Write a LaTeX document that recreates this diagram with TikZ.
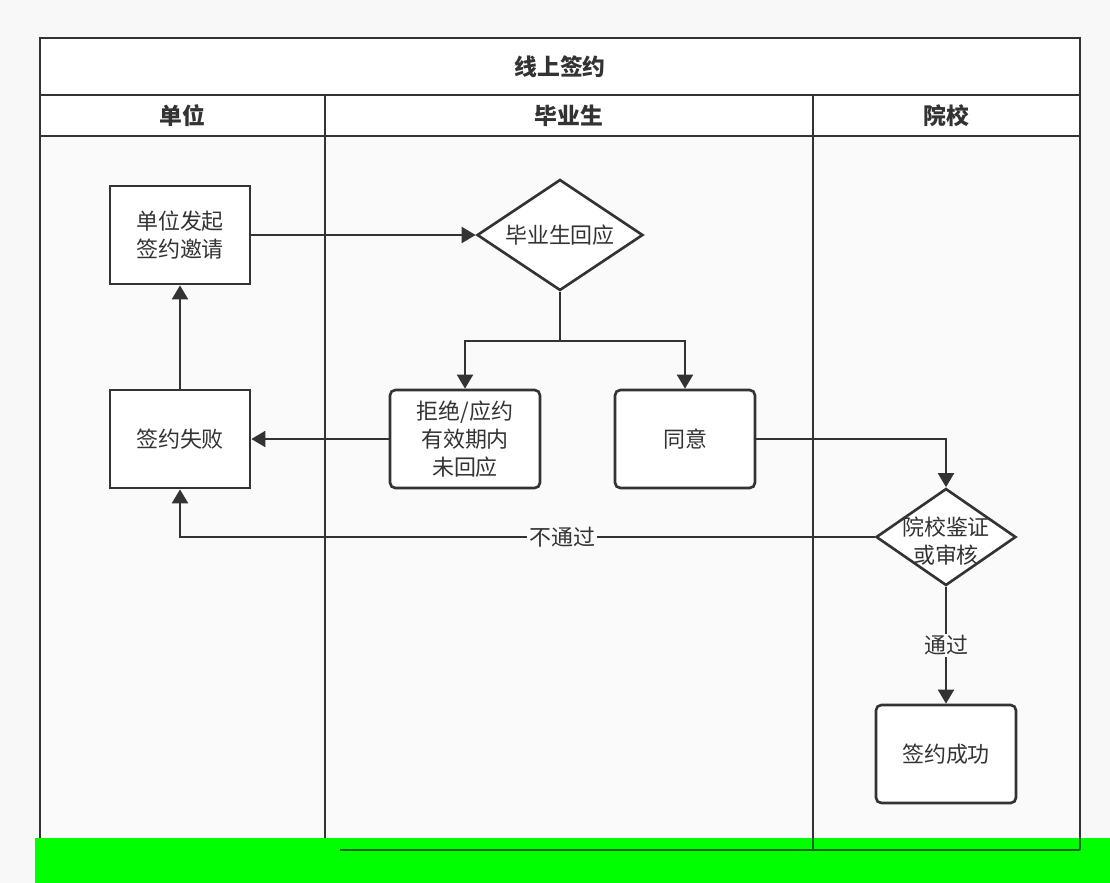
\documentclass[tikz,border=0pt]{standalone}
\usepackage{fontspec}
\setmainfont{Noto Sans CJK SC}
\usetikzlibrary{arrows.meta,shapes.geometric}
\definecolor{ln}{RGB}{51, 51, 51}
\definecolor{bg}{RGB}{248, 248, 248}
\definecolor{lane}{RGB}{250, 250, 250}
\definecolor{scr}{RGB}{0, 255, 0}

\tikzset{
  box/.style={draw=ln, line width=1.5pt, fill=white, minimum width=2.8cm, minimum height=1.96cm,
    align=center, text=ln, font=\fontsize{12.5}{16}\selectfont, inner sep=0pt},
  rbox/.style={box, rounded corners=3pt},
  decide/.style={draw=ln, line width=1.5pt, fill=white, diamond, inner sep=0pt},
  words/.style={align=center, text=ln, font=\fontsize{12.5}{16}\selectfont},
  flow/.style={draw=ln, line width=1.5pt, -{Triangle[length=8pt,width=9pt]}},
  head/.style={text=ln, font=\fontsize{13}{16}\selectfont\bfseries},
  tag/.style={fill=lane, text=ln, font=\fontsize{12.5}{16}\selectfont, inner sep=1pt}
}

\begin{document}
\begin{tikzpicture}[x=0.02cm, y=-0.02cm]
  \useasboundingbox (0,0) rectangle (1110,883);
  \fill[bg] (0,0) rectangle (1110,883);
  % pool
  \fill[lane] (40,136) rectangle (1080,850);
  \fill[white] (40,38) rectangle (1080,136);
  \draw[ln, line width=1.5pt] (40,38) rectangle (1080,850);
  \draw[ln, line width=1.5pt] (40,95) -- (1080,95);
  \draw[ln, line width=1.5pt] (40,136) -- (1080,136);
  \draw[ln, line width=1.5pt] (325,95) -- (325,850);
  \draw[ln, line width=1.5pt] (813,95) -- (813,850);
  \node[head] (title) at (560,67) {线上签约};
  \node[head] (unit) at (182,116) {单位};
  \node[head] (grad) at (569,116) {毕业生};
  \node[head] (school) at (946,116) {院校};

  % nodes
  \node[box] (invite) at (180,235) {单位发起\\签约邀请};
  \node[box] (fail) at (180,439) {签约失败};
  \node[decide, minimum width=3.32cm, minimum height=2.22cm] (reply) at (560,235) {};
  \node[words] (replytext) at (reply.center) {毕业生回应};
  \node[rbox, minimum width=3cm] (refuse) at (465,439) {拒绝/应约\\有效期内\\未回应};
  \node[rbox] (agree) at (685,439) {同意};
  \node[decide, minimum width=2.8cm, minimum height=1.94cm] (check) at (946,537) {};
  \node[words] (checktext) at (946,541) {院校鉴证\\或审核};
  \node[rbox] (ok) at (946,754) {签约成功};
  \coordinate (split) at (560,341);

  % connectors
  \draw[flow] (invite.east) -- (reply.west);
  \draw[draw=ln, line width=1.5pt] (reply.south) -- (split);
  \draw[flow] (split) -| (refuse.north);
  \draw[flow] (split) -| (agree.north);
  \draw[flow] (refuse.west) -- (fail.east);
  \draw[flow] (fail.north) -- (invite.south);
  \draw[flow] (agree.east) -| (check.north);
  \draw[flow] (check.west) -| node[tag, pos=0.225] {不通过} (fail.south);
  \draw[flow] (check.south) -- node[tag] {通过} (ok.north);

  % screen strip
  \fill[scr] (35,838) rectangle (1110,883);
  \draw[green!40!black, line width=1.5pt] (340,850) -- (1080,850);
  \draw[green!40!black, line width=1.5pt] (813,838) -- (813,850);
  \draw[green!40!black, line width=1.5pt] (1080,838) -- (1080,850);
\end{tikzpicture}
\end{document}
